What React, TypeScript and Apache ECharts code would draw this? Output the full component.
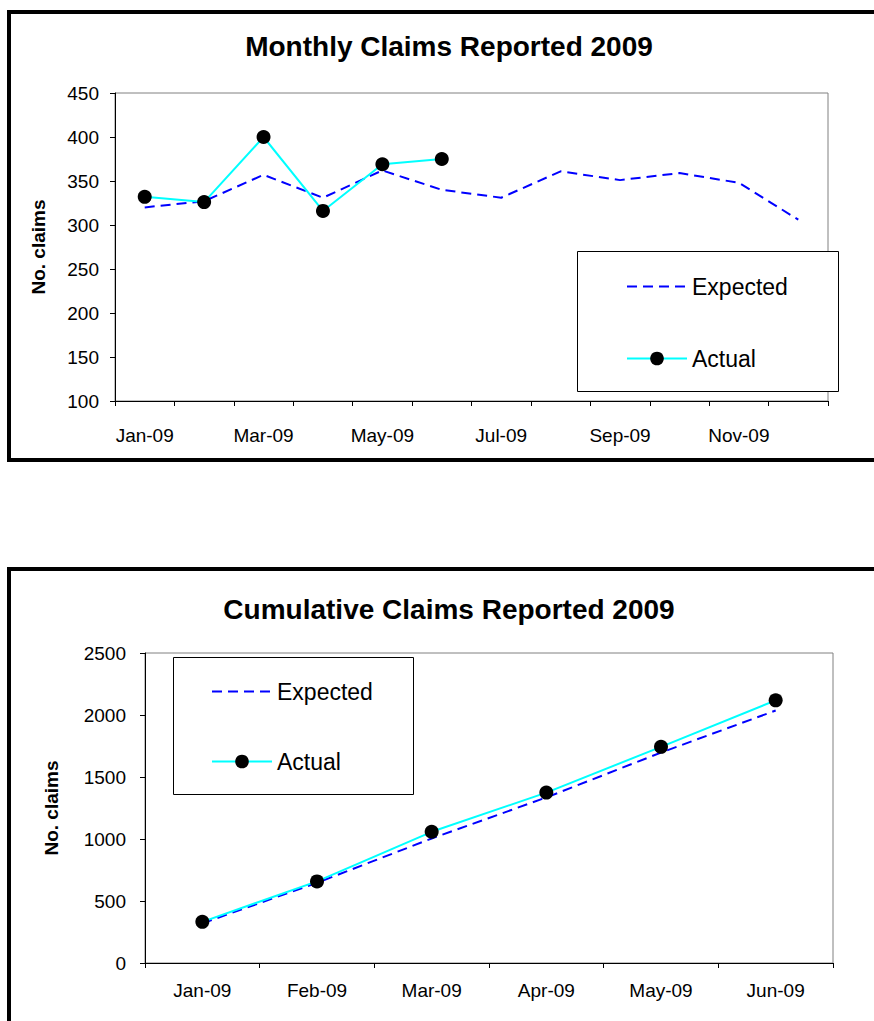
import React, { useEffect, useRef } from "react";
import * as echarts from "echarts";

const months1 = ["Jan-09", "Feb-09", "Mar-09", "Apr-09", "May-09", "Jun-09", "Jul-09", "Aug-09", "Sep-09", "Oct-09", "Nov-09", "Dec-09"];
const expectedMonthly = [320, 327, 357, 331, 362, 340, 331, 361, 351, 359, 348, 306];
const actualMonthly = [332, 326, 400, 316, 369, 375];

const months2 = ["Jan-09", "Feb-09", "Mar-09", "Apr-09", "May-09", "Jun-09"];
const expectedCumulative = [320, 647, 1004, 1335, 1697, 2036];
const actualCumulative = [332, 658, 1058, 1374, 1743, 2118];

const titles = ["Monthly Claims Reported 2009", "Cumulative Claims Reported 2009"];
const legendNames = ["Expected", "Actual"];
const yAxisName = "No. claims";

const FONT = 'Arial, "Liberation Sans", sans-serif';

export default function App() {
  const ref = useRef<HTMLDivElement>(null);
  useEffect(() => {
    if (!ref.current) return;
    const chart = echarts.init(ref.current, null, { renderer: "svg" });
    const axisLine = { show: true, lineStyle: { color: "#000", width: 1 } };
    const tick = { show: true, inside: false, length: 5, lineStyle: { color: "#000" } };
    const expStyle = { color: "#0000FF", width: 2, type: [10, 6] as number[] };
    const actStyle = { color: "#00FFFF", width: 2 };
    const plain = (v: number) => String(v);
    const legendData = [
      { name: legendNames[0], itemStyle: { opacity: 0 } },
      { name: legendNames[1] },
    ];
    chart.setOption({
      animation: false,
      backgroundColor: "#fff",
      textStyle: { fontFamily: FONT },
      title: [
        { text: titles[0], left: 449, top: 32, textAlign: "center", padding: 0, textStyle: { fontFamily: FONT, fontSize: 28, fontWeight: "bold", color: "#000" } },
        { text: titles[1], left: 449, top: 595, textAlign: "center", padding: 0, textStyle: { fontFamily: FONT, fontSize: 28, fontWeight: "bold", color: "#000" } },
      ],
      grid: [
        { left: 115, top: 93, width: 713, height: 308, show: true, borderColor: "#808080", borderWidth: 1, backgroundColor: "#fff" },
        { left: 145, top: 653, width: 688, height: 310, show: true, borderColor: "#808080", borderWidth: 1, backgroundColor: "#fff" },
      ],
      xAxis: [
        {
          gridIndex: 0, type: "category", data: months1, boundaryGap: true,
          axisLine, axisTick: { ...tick, interval: 0 },
          axisLabel: { interval: 1, margin: 25, fontSize: 19, color: "#000", fontFamily: FONT },
          splitLine: { show: false },
        },
        {
          gridIndex: 1, type: "category", data: months2, boundaryGap: true,
          axisLine, axisTick: { ...tick, interval: 0 },
          axisLabel: { interval: 0, margin: 18, fontSize: 19, color: "#000", fontFamily: FONT },
          splitLine: { show: false },
        },
      ],
      yAxis: [
        {
          gridIndex: 0, type: "value", min: 100, max: 450, interval: 50,
          axisLine, axisTick: tick,
          axisLabel: { margin: 16, fontSize: 19, color: "#000", fontFamily: FONT, formatter: plain },
          splitLine: { show: false },
          name: yAxisName, nameLocation: "middle", nameRotate: 90, nameGap: 67,
          nameTextStyle: { fontSize: 19, fontWeight: "bold", color: "#000", fontFamily: FONT },
        },
        {
          gridIndex: 1, type: "value", min: 0, max: 2500, interval: 500,
          axisLine, axisTick: tick,
          axisLabel: { margin: 19, fontSize: 19, color: "#000", fontFamily: FONT, formatter: plain },
          splitLine: { show: false },
          name: yAxisName, nameLocation: "middle", nameRotate: 90, nameGap: 84,
          nameTextStyle: { fontSize: 19, fontWeight: "bold", color: "#000", fontFamily: FONT },
        },
      ],
      legend: [
        {
          data: legendData, orient: "vertical", left: 626, top: 275, padding: 0,
          itemWidth: 60, itemHeight: 17, itemGap: 49, z: 20,
          textStyle: { fontSize: 23, color: "#000", fontFamily: FONT, lineHeight: 17 },
          selectedMode: false,
        },
        {
          data: legendData, orient: "vertical", left: 211, top: 680, padding: 0,
          itemWidth: 60, itemHeight: 17, itemGap: 47, z: 20,
          textStyle: { fontSize: 23, color: "#000", fontFamily: FONT, lineHeight: 17 },
          selectedMode: false,
        },
      ],
      graphic: [
        { type: "rect", z: 1, shape: { x: 9, y: 12, width: 900, height: 448 }, style: { fill: "none", stroke: "#000", lineWidth: 4 } },
        { type: "rect", z: 1, shape: { x: 9, y: 569, width: 900, height: 600 }, style: { fill: "none", stroke: "#000", lineWidth: 4 } },
        { type: "rect", z: 10, shape: { x: 577.5, y: 251.5, width: 261, height: 140 }, style: { fill: "#fff", stroke: "#000", lineWidth: 1 } },
        { type: "rect", z: 10, shape: { x: 173.5, y: 657.5, width: 240, height: 137 }, style: { fill: "#fff", stroke: "#000", lineWidth: 1 } },
      ],
      series: [
        { name: legendNames[0], type: "line", xAxisIndex: 0, yAxisIndex: 0, data: expectedMonthly, symbol: "none", lineStyle: expStyle, itemStyle: { color: "#0000FF" }, z: 3 },
        { name: legendNames[1], type: "line", xAxisIndex: 0, yAxisIndex: 0, data: actualMonthly, symbol: "circle", symbolSize: 14, lineStyle: actStyle, itemStyle: { color: "#000", borderWidth: 0 }, z: 4 },
        { name: legendNames[0], type: "line", xAxisIndex: 1, yAxisIndex: 1, data: expectedCumulative, symbol: "none", lineStyle: expStyle, itemStyle: { color: "#0000FF" }, z: 3 },
        { name: legendNames[1], type: "line", xAxisIndex: 1, yAxisIndex: 1, data: actualCumulative, symbol: "circle", symbolSize: 14, lineStyle: actStyle, itemStyle: { color: "#000", borderWidth: 0 }, z: 4 },
      ],
    });
    return () => chart.dispose();
  }, []);
  return <div ref={ref} style={{ position: "absolute", left: 0, top: 0, width: 874, height: 1021 }} />;
}
